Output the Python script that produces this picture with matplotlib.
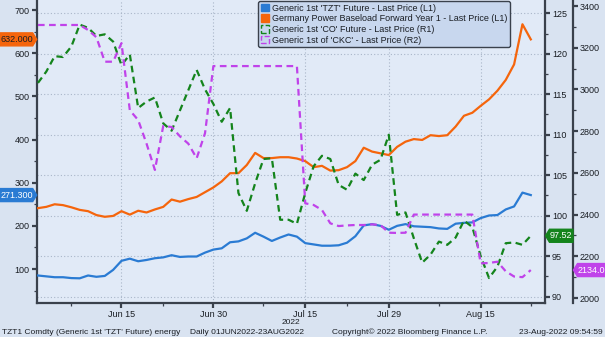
import matplotlib
matplotlib.use('Agg')
import matplotlib.pyplot as plt
import matplotlib.transforms as mtransforms
from matplotlib.patches import Patch, Polygon
from matplotlib.ticker import MultipleLocator
import numpy as np
import pandas as pd

# trading days 01JUN2022 - 23AUG2022
dates = pd.bdate_range('2022-06-01', '2022-08-23')
major_dates = ['2022-06-15', '2022-06-30', '2022-07-15', '2022-07-29', '2022-08-15']
major_labels = ['Jun 15', 'Jun 30', 'Jul 15', 'Jul 29', 'Aug 15']
minor_dates = ['2022-06-07', '2022-06-22', '2022-07-08', '2022-07-22', '2022-08-08', '2022-08-23']

# Generic 1st 'TZT' Future (L1)
tzt = [85, 83, 81, 81, 79, 78.5, 85, 82, 84, 98,
       119, 124, 118, 121, 125, 127, 132, 128, 129, 129,
       138, 145, 148, 162, 164, 171, 184, 175, 165, 173,
       180, 175, 160, 157, 154, 154, 155, 161, 176, 201,
       204, 200, 191, 200, 204, 199, 198, 197, 194, 193,
       205, 207, 208, 218, 224, 225, 238, 245, 277, 271.3]
# Germany Power Baseload Forward Year 1 (L1)
power = [241, 244, 250, 248, 243, 237, 234, 225, 221, 223,
         234, 226, 235, 231, 238, 244, 261, 256, 262, 267,
         278, 289, 303, 322, 322, 341, 369, 357, 357, 359,
         359, 356, 350, 336, 339, 328, 329, 336, 350, 381,
         372, 368, 364, 383, 395, 401, 399, 410, 408, 410,
         430, 455, 462, 478, 493, 513, 538, 574, 667, 632]
# Generic 1st 'CO' Future (R1)
co = [116.4, 117.8, 119.7, 119.6, 120.9, 123.6, 123.2, 122.2, 122.4, 121.5,
      118.6, 119.9, 113.3, 114.1, 114.6, 111.4, 110.5, 113.0, 115.5, 118.0,
      115.6, 113.8, 111.6, 113.3, 102.8, 100.6, 104.0, 107.0, 107.1, 99.5,
      99.5, 99.0, 102.8, 106.1, 107.4, 107.0, 103.8, 103.2, 105.2, 104.4,
      106.3, 106.9, 110.0, 100.1, 100.4, 97.2, 94.2, 95.2, 96.8, 96.4,
      97.3, 99.4, 98.6, 95.0, 92.3, 93.7, 96.6, 96.7, 96.4, 97.52]
# Generic 1st of 'CKC' (R2)
ckc = [3309, 3309, 3309, 3309, 3309, 3309, 3285, 3250, 3133, 3133,
       3222, 2900, 2853, 2740, 2614, 2825, 2820, 2775, 2740, 2670,
       2790, 3112, 3112, 3112, 3112, 3112, 3112, 3112, 3112, 3112,
       3112, 3112, 2454, 2446, 2422, 2358, 2345, 2348, 2350, 2350,
       2353, 2350, 2313, 2312, 2313, 2400, 2400, 2400, 2400, 2400,
       2400, 2400, 2400, 2166, 2168, 2174, 2128, 2103, 2100, 2134]

legend_labels = ["Generic 1st 'TZT' Future - Last Price (L1)",
                 "Germany Power Baseload Forward Year 1 - Last Price (L1)",
                 "Generic 1st 'CO' Future - Last Price (R1)",
                 "Generic 1st of 'CKC' - Last Price (R2)"]

BLUE = '#2a7bd3'
ORANGE = '#f5650c'
GREEN = '#14841c'
PURPLE = '#c043ea'
BG = '#d9e3f1'
AXBG = '#e1eaf7'
TXT = '#1a1e24'
SPINE = '#3a414c'
FS = 6.5
FS_FOOT = 6

plt.rcParams['font.family'] = ['Liberation Sans', 'DejaVu Sans']

W, H = 605, 337
fig = plt.figure(figsize=(W / 100, H / 100), dpi=100, facecolor=BG)
ax = fig.add_axes([36.7 / W, 1 - 303.3 / H, (545 - 36.7) / W, 303.3 / H])
ax.set_facecolor(AXBG)
ax_r1 = ax.twinx()
ax_r2 = ax.twinx()
ax_r2.spines['right'].set_position(('outward', 20.2))

x = np.arange(len(dates))
pos = lambda ds: [dates.get_loc(pd.Timestamp(d)) for d in ds]

ax.plot(x, tzt, color=BLUE, lw=1.6, zorder=3)
ax.plot(x, power, color=ORANGE, lw=1.6, zorder=3)
ax_r1.plot(x, co, color=GREEN, lw=1.6, dashes=(3, 2))
ax_r2.plot(x, ckc, color=PURPLE, lw=1.6, dashes=(3, 2))

ax.set_xlim(-0.15, 60.7)
ax.set_ylim(20.6, 723.2)
ax_r1.set_ylim(89.18, 126.64)
ax_r2.set_ylim(1974.6, 3428.8)

ax.set_xticks(pos(major_dates))
ax.set_xticklabels(major_labels)
ax.set_xticks(pos(minor_dates), minor=True)
ax.set_yticks(range(100, 701, 100))
ax.yaxis.set_minor_locator(MultipleLocator(50))
ax_r1.set_yticks(range(90, 126, 5))
ax_r1.yaxis.set_minor_locator(MultipleLocator(2.5))
ax_r2.set_yticks(range(2000, 3401, 200))
ax_r2.yaxis.set_minor_locator(MultipleLocator(100))

for a in (ax, ax_r1, ax_r2):
    for s in a.spines.values():
        s.set_color(SPINE)
        s.set_linewidth(1.6)
    a.spines['top'].set_visible(False)
    a.tick_params(which='major', direction='out', length=3.5, width=1.6,
                  pad=1.5, labelsize=FS, colors=SPINE, labelcolor=TXT)
    a.tick_params(which='minor', direction='out', length=2.5, width=0.9,
                  colors=SPINE)
ax.tick_params(axis='x', which='major', pad=1)
ax.spines['right'].set_visible(False)
for a in (ax_r1, ax_r2):
    a.spines['left'].set_visible(False)
    a.spines['bottom'].set_visible(False)

# grid: vertical at major dates, horizontal at R1 ticks
ax.grid(axis='x', which='major', color='#a9b6c9', linestyle=(0, (1, 2)), linewidth=0.8)
trans = mtransforms.blended_transform_factory(ax.transAxes, ax_r1.transData)
for v in range(90, 126, 5):
    ax.plot([0, 1], [v, v], transform=trans, color='#a9b6c9',
            ls=(0, (1, 2)), lw=0.8, zorder=1)

handles = [Patch(facecolor=BLUE, edgecolor=BLUE),
           Patch(facecolor=ORANGE, edgecolor=ORANGE),
           Patch(facecolor='none', edgecolor=GREEN, linestyle='--', linewidth=1),
           Patch(facecolor='none', edgecolor=PURPLE, linestyle='--', linewidth=1)]
leg = ax_r2.legend(handles, legend_labels, loc='upper left',
                   bbox_to_anchor=(258 / W, 1 - 1 / H), bbox_transform=fig.transFigure,
                   fontsize=FS, frameon=True, fancybox=True, framealpha=1,
                   facecolor='#c8d7ee', edgecolor='#3a414c', borderpad=0.3,
                   labelspacing=0.18, handlelength=0.9, handleheight=0.9,
                   handletextpad=0.35, borderaxespad=0)
leg.get_frame().set_linewidth(1.0)
for t in leg.get_texts():
    t.set_color(TXT)


def tag(axis, value, x0, x1, face, tcolor, text, tip='right'):
    y = axis.transData.transform((0, value))[1]
    h = 6.5
    if tip == 'right':
        pts = [(x0, y - h), (x1 - 4, y - h), (x1, y), (x1 - 4, y + h), (x0, y + h)]
        cx = (x0 + x1 - 4) / 2
    else:
        pts = [(x0, y), (x0 + 4, y - h), (x1, y - h), (x1, y + h), (x0 + 4, y + h)]
        cx = (x0 + 4 + x1) / 2
    pts = [(px / W, py / H) for px, py in pts]
    fig.patches.append(Polygon(pts, closed=True, transform=fig.transFigure,
                               facecolor=face, edgecolor=face, zorder=5))
    fig.text(cx / W, y / H, text, ha='center', va='center', color=tcolor,
             fontsize=FS, zorder=6)


tag(ax, power[-1], 0, 36.7, ORANGE, TXT, f'{power[-1]:.3f}')
tag(ax, tzt[-1], 0, 36.7, BLUE, 'white', f'{tzt[-1]:.3f}')
tag(ax_r1, co[-1], 545.5, 573, GREEN, 'white', f'{co[-1]:.2f}', tip='left')
tag(ax_r2, ckc[-1], 573.5, 605, PURPLE, 'white', f'{ckc[-1]:.1f}', tip='left')

fig.text(291 / W, 1 - 322.5 / H, '2022', ha='center', va='center', fontsize=FS_FOOT, color=TXT)
fig.text(2 / W, 1 - 332 / H, "TZT1 Comdty (Generic 1st 'TZT' Future) energy",
         ha='left', va='center', fontsize=FS_FOOT, color=TXT)
fig.text(190 / W, 1 - 332 / H, 'Daily 01JUN2022-23AUG2022',
         ha='left', va='center', fontsize=FS_FOOT, color=TXT)
fig.text(332 / W, 1 - 332 / H, 'Copyright\u00a9 2022 Bloomberg Finance L.P.',
         ha='left', va='center', fontsize=FS_FOOT, color=TXT)
fig.text(603 / W, 1 - 332 / H, '23-Aug-2022 09:54:59',
         ha='right', va='center', fontsize=FS_FOOT, color=TXT)

fig.savefig('out.png', dpi=100, facecolor=BG)
